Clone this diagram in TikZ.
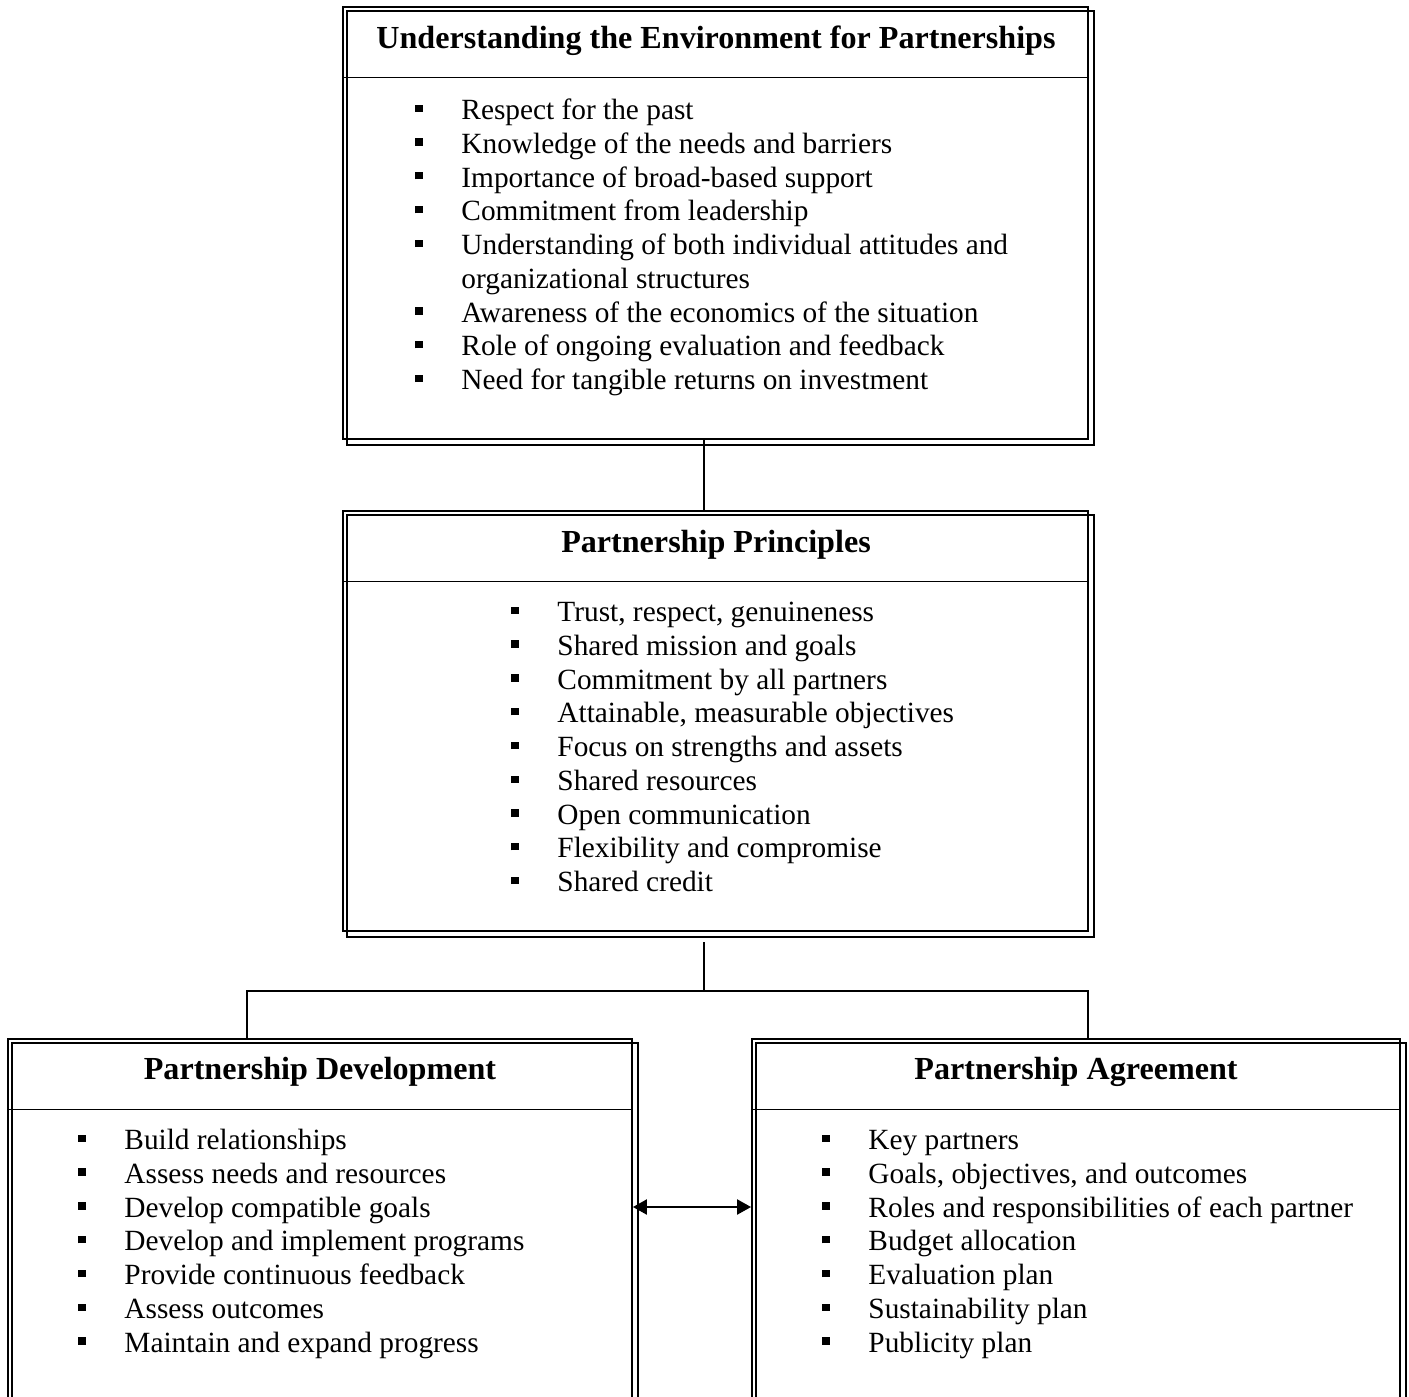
\documentclass[tikz,border=0pt]{standalone}
\usepackage{fontspec}
\setmainfont{Liberation Serif}
\usetikzlibrary{positioning,fit,calc,arrows.meta}
\newcommand{\sqbul}{\raisebox{3.4pt}{\rule{3.3pt}{3.3pt}}}
\newcommand{\itm}[1]{\makebox[20.7pt][l]{\sqbul}#1}
\newcommand{\cont}[1]{\makebox[20.7pt][l]{}#1}
\begin{document}
\begin{tikzpicture}[x=0.45pt,y=-0.45pt,
  box/.style={draw, line width=0.85pt, inner sep=0pt},
  frame/.style={line width=0.7pt},
  heading/.style={font=\fontsize{14.45}{16}\selectfont\bfseries, inner sep=0pt, anchor=base},
  items/.style={font=\fontsize{13.2}{15.2}\selectfont, align=left, inner sep=0pt, anchor=north west},
  link/.style={line width=0.85pt}]
  \clip (0,0) rectangle (1409,1397);

  % Boxes
  \node[box, fit={(343,7) (1088,439)}] (env) {};
  \node[box, fit={(343,511) (1088,931)}] (prin) {};
  \node[box, fit={(8,1039) (632,1430)}] (dev) {};
  \node[box, fit={(752,1039) (1400,1430)}] (agr) {};

  % Second outline and header rule
  \foreach \b in {env,prin,dev,agr} {
    \draw[frame] ([shift={(5,5)}]\b.north west) rectangle ([shift={(5,5)}]\b.south east);
    \draw[frame] ([shift={(0,71.5)}]\b.north west) -- ([shift={(0,71.5)}]\b.north east);
  }

  % Headings
  \node[heading] (envT) at (716,48) {Understanding the Environment for Partnerships};
  \node[heading] (prinT) at (716,552) {Partnership Principles};
  \node[heading] (devT) at (320,1079) {Partnership Development};
  \node[heading] (agrT) at (1076,1079) {Partnership Agreement};

  % Lists
  \node[items] (envL) at (415,95.4) {\strut\itm{Respect for the past}\\
    \itm{Knowledge of the needs and barriers}\\
    \itm{Importance of broad-based support}\\
    \itm{Commitment from leadership}\\
    \itm{Understanding of both individual attitudes and}\\
    \cont{organizational structures}\\
    \itm{Awareness of the economics of the situation}\\
    \itm{Role of ongoing evaluation and feedback}\\
    \itm{Need for tangible returns on investment}};
  \node[items] (prinL) at (511,597.4) {\strut\itm{Trust, respect, genuineness}\\
    \itm{Shared mission and goals}\\
    \itm{Commitment by all partners}\\
    \itm{Attainable, measurable objectives}\\
    \itm{Focus on strengths and assets}\\
    \itm{Shared resources}\\
    \itm{Open communication}\\
    \itm{Flexibility and compromise}\\
    \itm{Shared credit}};
  \node[items] (devL) at (78,1125.4) {\strut\itm{Build relationships}\\
    \itm{Assess needs and resources}\\
    \itm{Develop compatible goals}\\
    \itm{Develop and implement programs}\\
    \itm{Provide continuous feedback}\\
    \itm{Assess outcomes}\\
    \itm{Maintain and expand progress}};
  \node[items] (agrL) at (822,1125.4) {\strut\itm{Key partners}\\
    \itm{Goals, objectives, and outcomes}\\
    \itm{Roles and responsibilities of each partner}\\
    \itm{Budget allocation}\\
    \itm{Evaluation plan}\\
    \itm{Sustainability plan}\\
    \itm{Publicity plan}};

  % Connectors
  \coordinate (tap) at (704,0);
  \coordinate (stem) at (704,942);
  \coordinate (fork) at (704,991);
  \coordinate (dl) at (247,991);
  \coordinate (dr) at (1088,991);
  \coordinate (arr) at (0,1207);
  \draw[link] (env.south -| tap) -- (prin.north -| tap);
  \draw[link] (stem) -- (fork);
  \draw[link] (dev.north -| dl) -- (dl) -- (dr) -- (agr.north -| dr);
  \draw[link, {Triangle[length=6.3pt,width=6.8pt]}-{Triangle[length=6.3pt,width=6.8pt]}]
    (dev.east |- arr) -- (agr.west |- arr);
\end{tikzpicture}
\end{document}
